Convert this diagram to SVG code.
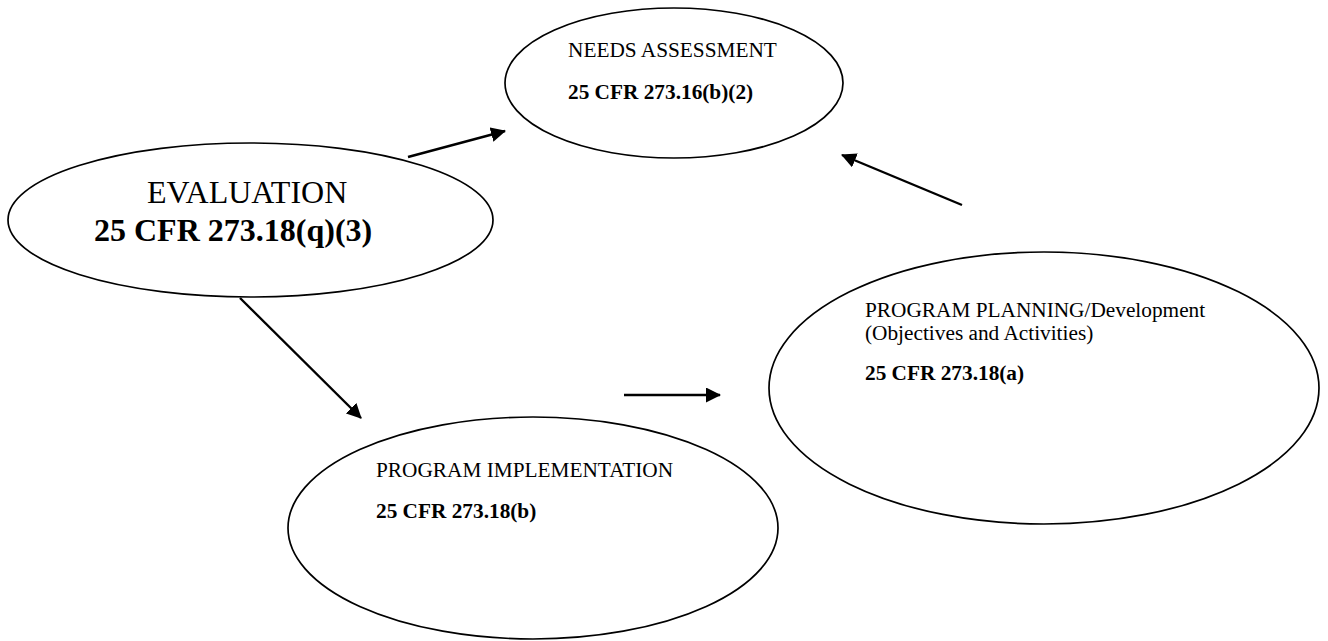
<svg xmlns="http://www.w3.org/2000/svg" width="1328" height="641" viewBox="0 0 1328 641">
<style>
.node ellipse{fill:#fff;stroke:#000;stroke-width:1.7}
.t{font-family:"Liberation Serif","Times New Roman",serif;font-size:21.3px;fill:#000}
.b{font-weight:bold}
.big{font-size:32px}
.conn line{stroke:#000;stroke-width:2.4;fill:none}
</style>
<defs>
<marker id="ah" viewBox="0 0 15 15" refX="14" refY="7.5" markerWidth="15" markerHeight="15" markerUnits="userSpaceOnUse" orient="auto">
<path d="M0,0 L15,7.5 L0,15 z" fill="#000"/>
</marker>
</defs>
<rect width="1328" height="641" fill="#fff"/>
<g id="needs" class="node">
<ellipse cx="674" cy="83" rx="169" ry="75"/>
<text class="t" x="568" y="57">NEEDS ASSESSMENT</text>
<text class="t b" x="568" y="99">25 CFR 273.16(b)(2)</text>
</g>
<g id="evaluation" class="node">
<ellipse cx="250.5" cy="220" rx="242.5" ry="77"/>
<text class="t big" x="147" y="203">EVALUATION</text>
<text class="t big b" x="94" y="241">25 CFR 273.18(q)(3)</text>
</g>
<g id="planning" class="node">
<ellipse cx="1044" cy="388" rx="275" ry="136"/>
<text class="t" x="865" y="317">PROGRAM PLANNING/Development</text>
<text class="t" x="865" y="340">(Objectives and Activities)</text>
<text class="t b" x="865" y="380">25 CFR 273.18(a)</text>
</g>
<g id="implementation" class="node">
<ellipse cx="533" cy="528" rx="245" ry="111"/>
<text class="t" x="376" y="477">PROGRAM IMPLEMENTATION</text>
<text class="t b" x="376" y="518">25 CFR 273.18(b)</text>
</g>
<g id="connectors" class="conn">
<line x1="408" y1="157" x2="505" y2="131" marker-end="url(#ah)"/>
<line x1="962" y1="205" x2="842" y2="155" marker-end="url(#ah)"/>
<line x1="240" y1="298" x2="361" y2="418" marker-end="url(#ah)"/>
<line x1="624" y1="395" x2="720" y2="395" marker-end="url(#ah)"/>
</g>
</svg>
